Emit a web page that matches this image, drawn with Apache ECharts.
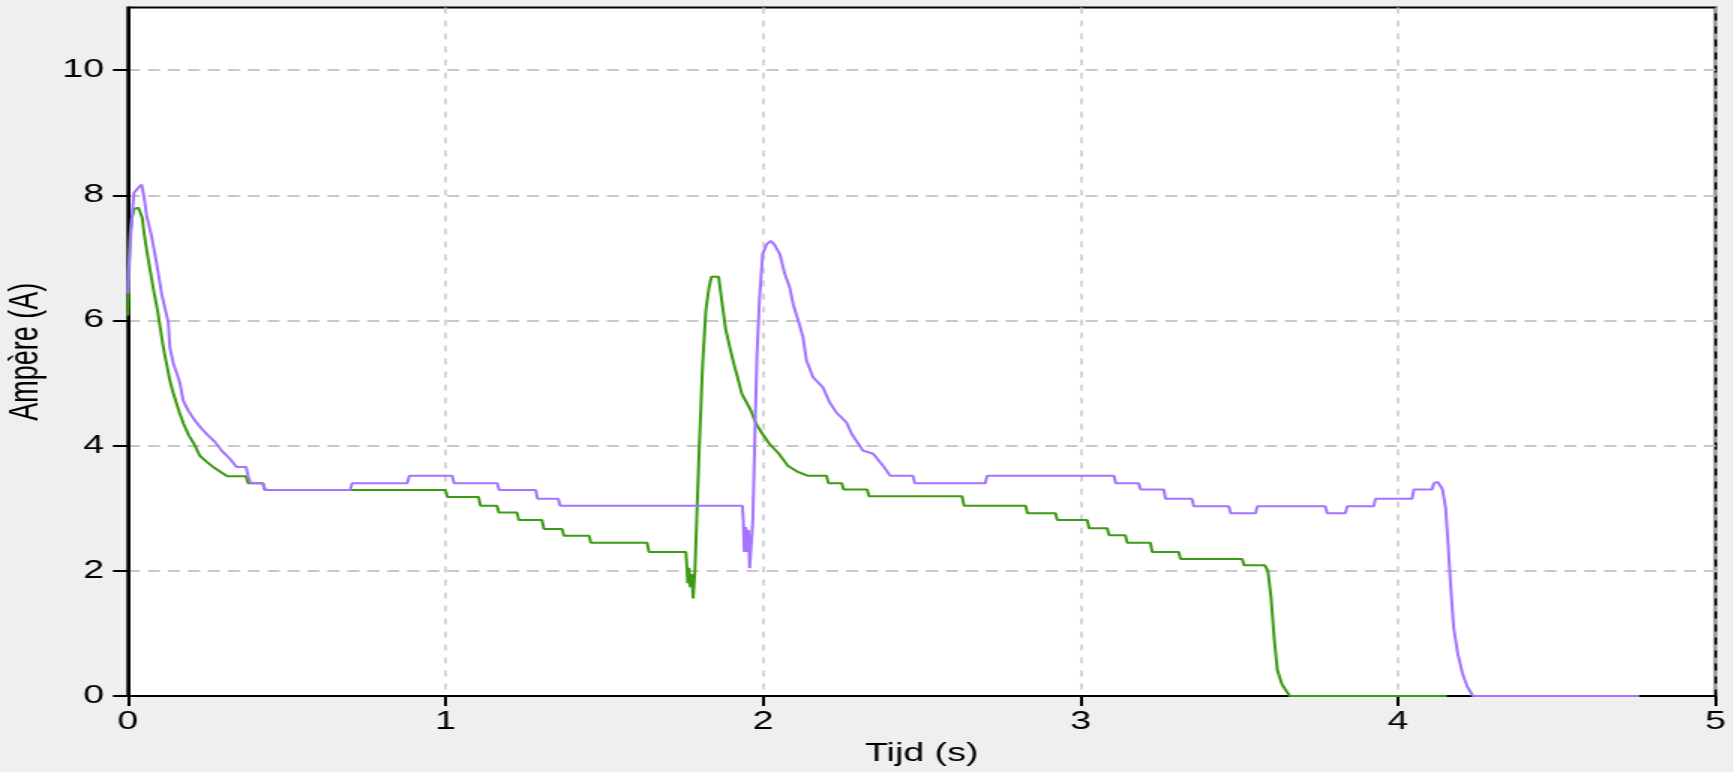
<!DOCTYPE html>
<html>
<head>
<meta charset="utf-8">
<script src="https://cdn.jsdelivr.net/npm/echarts@6/dist/echarts.min.js"></script>
<style>
html,body{margin:0;padding:0;background:#efefef;overflow:hidden;}
#chart{width:1155.333px;height:772px;transform:scaleX(1.5);transform-origin:0 0;}
</style>
</head>
<body>
<div id="chart"></div>
<script>
// X-axis ticks (s) and Y-axis ticks (A)
const xTicks = [0, 1, 2, 3, 4, 5];
const yTicks = [0, 2, 4, 6, 8, 10];

// Series 1 (green): time (s) and current (A)
const tijd1 = [0.000,0.002,0.006,0.012,0.019,0.033,0.045,0.052,0.062,0.072,0.082,0.093,0.103,0.112,0.122,0.132,0.142,0.152,0.162,0.175,0.192,0.208,0.226,0.248,0.268,0.292,0.313,0.372,0.378,0.425,0.432,
  1.000,1.006,1.104,1.110,1.162,1.168,1.225,1.231,1.304,1.310,1.367,1.373,1.452,1.458,1.635,1.641,1.757,
  1.760,1.763,1.767,1.771,1.776,1.780,1.786,1.792,1.800,1.810,1.820,1.830,1.838,1.860,1.866,1.873,1.882,1.895,1.908,1.920,1.933,1.948,1.962,1.978,1.998,2.020,2.050,2.078,2.110,2.140,
  2.200,2.206,2.248,2.254,2.328,2.334,2.627,2.633,2.827,2.833,2.921,2.927,3.021,3.027,3.084,3.090,3.141,3.147,3.220,3.226,3.309,3.315,3.509,3.515,3.580,
  3.590,3.600,3.610,3.620,3.635,3.659,4.153];
const stroom1 = [6.08,6.43,7.33,7.62,7.78,7.80,7.64,7.35,7.03,6.74,6.45,6.16,5.84,5.55,5.30,5.04,4.85,4.69,4.53,4.35,4.16,4.03,3.84,3.74,3.66,3.58,3.51,3.51,3.40,3.40,3.29,
  3.29,3.18,3.18,3.04,3.04,2.93,2.93,2.81,2.81,2.67,2.67,2.56,2.56,2.45,2.45,2.30,2.30,
  2.09,1.80,2.05,1.74,1.95,1.56,2.04,2.94,4.06,5.31,6.16,6.53,6.70,6.70,6.48,6.21,5.87,5.58,5.31,5.09,4.83,4.69,4.56,4.35,4.19,4.03,3.87,3.68,3.58,3.52,
  3.52,3.40,3.40,3.30,3.30,3.19,3.19,3.04,3.04,2.92,2.92,2.81,2.81,2.68,2.68,2.57,2.57,2.45,2.45,2.30,2.30,2.19,2.19,2.09,2.09,
  2.00,1.58,0.92,0.41,0.18,0.00,0.00];

// Series 2 (purple): time (s) and current (A)
const tijd2 = [0.000,0.002,0.012,0.019,0.033,0.043,0.050,0.059,0.074,0.085,0.095,0.106,0.116,0.127,0.132,0.143,0.153,0.164,0.174,0.190,0.211,0.232,0.253,0.274,0.295,0.321,0.342,0.372,0.379,0.387,0.425,0.432,
  0.700,0.706,0.880,0.886,1.021,1.027,1.163,1.169,1.284,1.290,1.355,1.361,1.935,
  1.938,1.941,1.946,1.950,1.954,1.958,1.964,1.968,1.975,1.981,1.989,1.999,2.012,2.025,2.035,2.053,2.069,2.084,2.095,2.111,2.126,2.137,2.158,2.189,2.210,2.231,2.263,2.279,2.315,2.347,2.378,2.400,
  2.472,2.478,2.700,2.706,3.105,3.111,3.183,3.189,3.262,3.268,3.351,3.357,3.467,3.473,3.551,3.557,3.771,3.777,3.834,3.840,3.923,3.929,4.044,4.050,4.107,
  4.113,4.125,4.140,4.150,4.158,4.165,4.175,4.188,4.203,4.218,4.236,4.760];
const stroom2 = [6.43,6.82,7.62,8.04,8.12,8.17,7.99,7.67,7.35,7.06,6.77,6.43,6.21,5.97,5.57,5.31,5.17,4.99,4.72,4.56,4.40,4.27,4.16,4.06,3.92,3.79,3.66,3.66,3.50,3.40,3.40,3.29,
  3.29,3.40,3.40,3.52,3.52,3.40,3.40,3.29,3.29,3.15,3.15,3.04,3.04,
  2.81,2.30,2.70,2.30,2.65,2.04,2.04,2.81,4.27,5.44,6.35,7.06,7.22,7.27,7.22,7.06,6.74,6.53,6.26,6.00,5.73,5.36,5.09,4.93,4.69,4.53,4.37,4.19,3.92,3.87,3.68,3.52,
  3.52,3.40,3.40,3.52,3.52,3.40,3.40,3.30,3.30,3.15,3.15,3.03,3.03,2.92,2.92,3.03,3.03,2.92,2.92,3.03,3.03,3.15,3.15,3.30,3.30,
  3.40,3.42,3.30,3.00,2.40,1.82,1.10,0.68,0.36,0.15,0.00,0.00];

const data1 = tijd1.map((t, i) => [t, stroom1[i]]);
const data2 = tijd2.map((t, i) => [t, stroom2[i]]);

const FONT = "'Liberation Sans', Arial, sans-serif";
const chart = echarts.init(document.getElementById('chart'), null, {renderer: 'canvas'});
chart.setOption({
  animation: false,
  backgroundColor: '#efefef',
  grid: {
    left: 85.3, right: 11.3, top: 7.5, bottom: 76,
    show: true, backgroundColor: '#ffffff', borderColor: '#000', borderWidth: 2,
    containLabel: false, outerBoundsMode: 'none'
  },
  xAxis: {
    type: 'value', min: 0, max: 5, interval: 1,
    name: 'Tijd (s)', nameLocation: 'middle', nameGap: 46,
    nameTextStyle: {color: '#000', fontSize: 25, fontFamily: FONT},
    axisLine: {show: true, lineStyle: {color: '#000', width: 2}},
    axisTick: {show: true, length: 10, lineStyle: {color: '#000', width: 2}, customValues: xTicks},
    axisLabel: {color: '#000', fontSize: 25, fontFamily: FONT, margin: 14, customValues: xTicks},
    splitLine: {show: true, lineStyle: {color: '#c8c8c8', width: 1.5, type: [6, 7]}}
  },
  yAxis: {
    type: 'value', min: 0, max: 11, interval: 2,
    name: 'Ampère (A)', nameLocation: 'middle', nameGap: 49, nameRotate: 90,
    nameTextStyle: {color: '#000', fontSize: 27, fontFamily: FONT},
    axisLine: {show: true, lineStyle: {color: '#000', width: 2}},
    axisTick: {show: true, length: 10, lineStyle: {color: '#000', width: 2}, customValues: yTicks},
    axisLabel: {color: '#000', fontSize: 25, fontFamily: FONT, margin: 16, customValues: yTicks},
    splitLine: {show: true, lineStyle: {color: '#c8c8c8', width: 2, type: [8, 5.3]}}
  },
  series: [
    {name: 'Stroom 1', type: 'line', data: data1, showSymbol: false, symbol: 'none',
     lineStyle: {color: '#3c9b12', width: 2}, z: 3},
    {name: 'Stroom 2', type: 'line', data: data2, showSymbol: false, symbol: 'none',
     lineStyle: {color: '#a374ff', width: 2}, z: 4}
  ]
});
</script>
</body>
</html>
